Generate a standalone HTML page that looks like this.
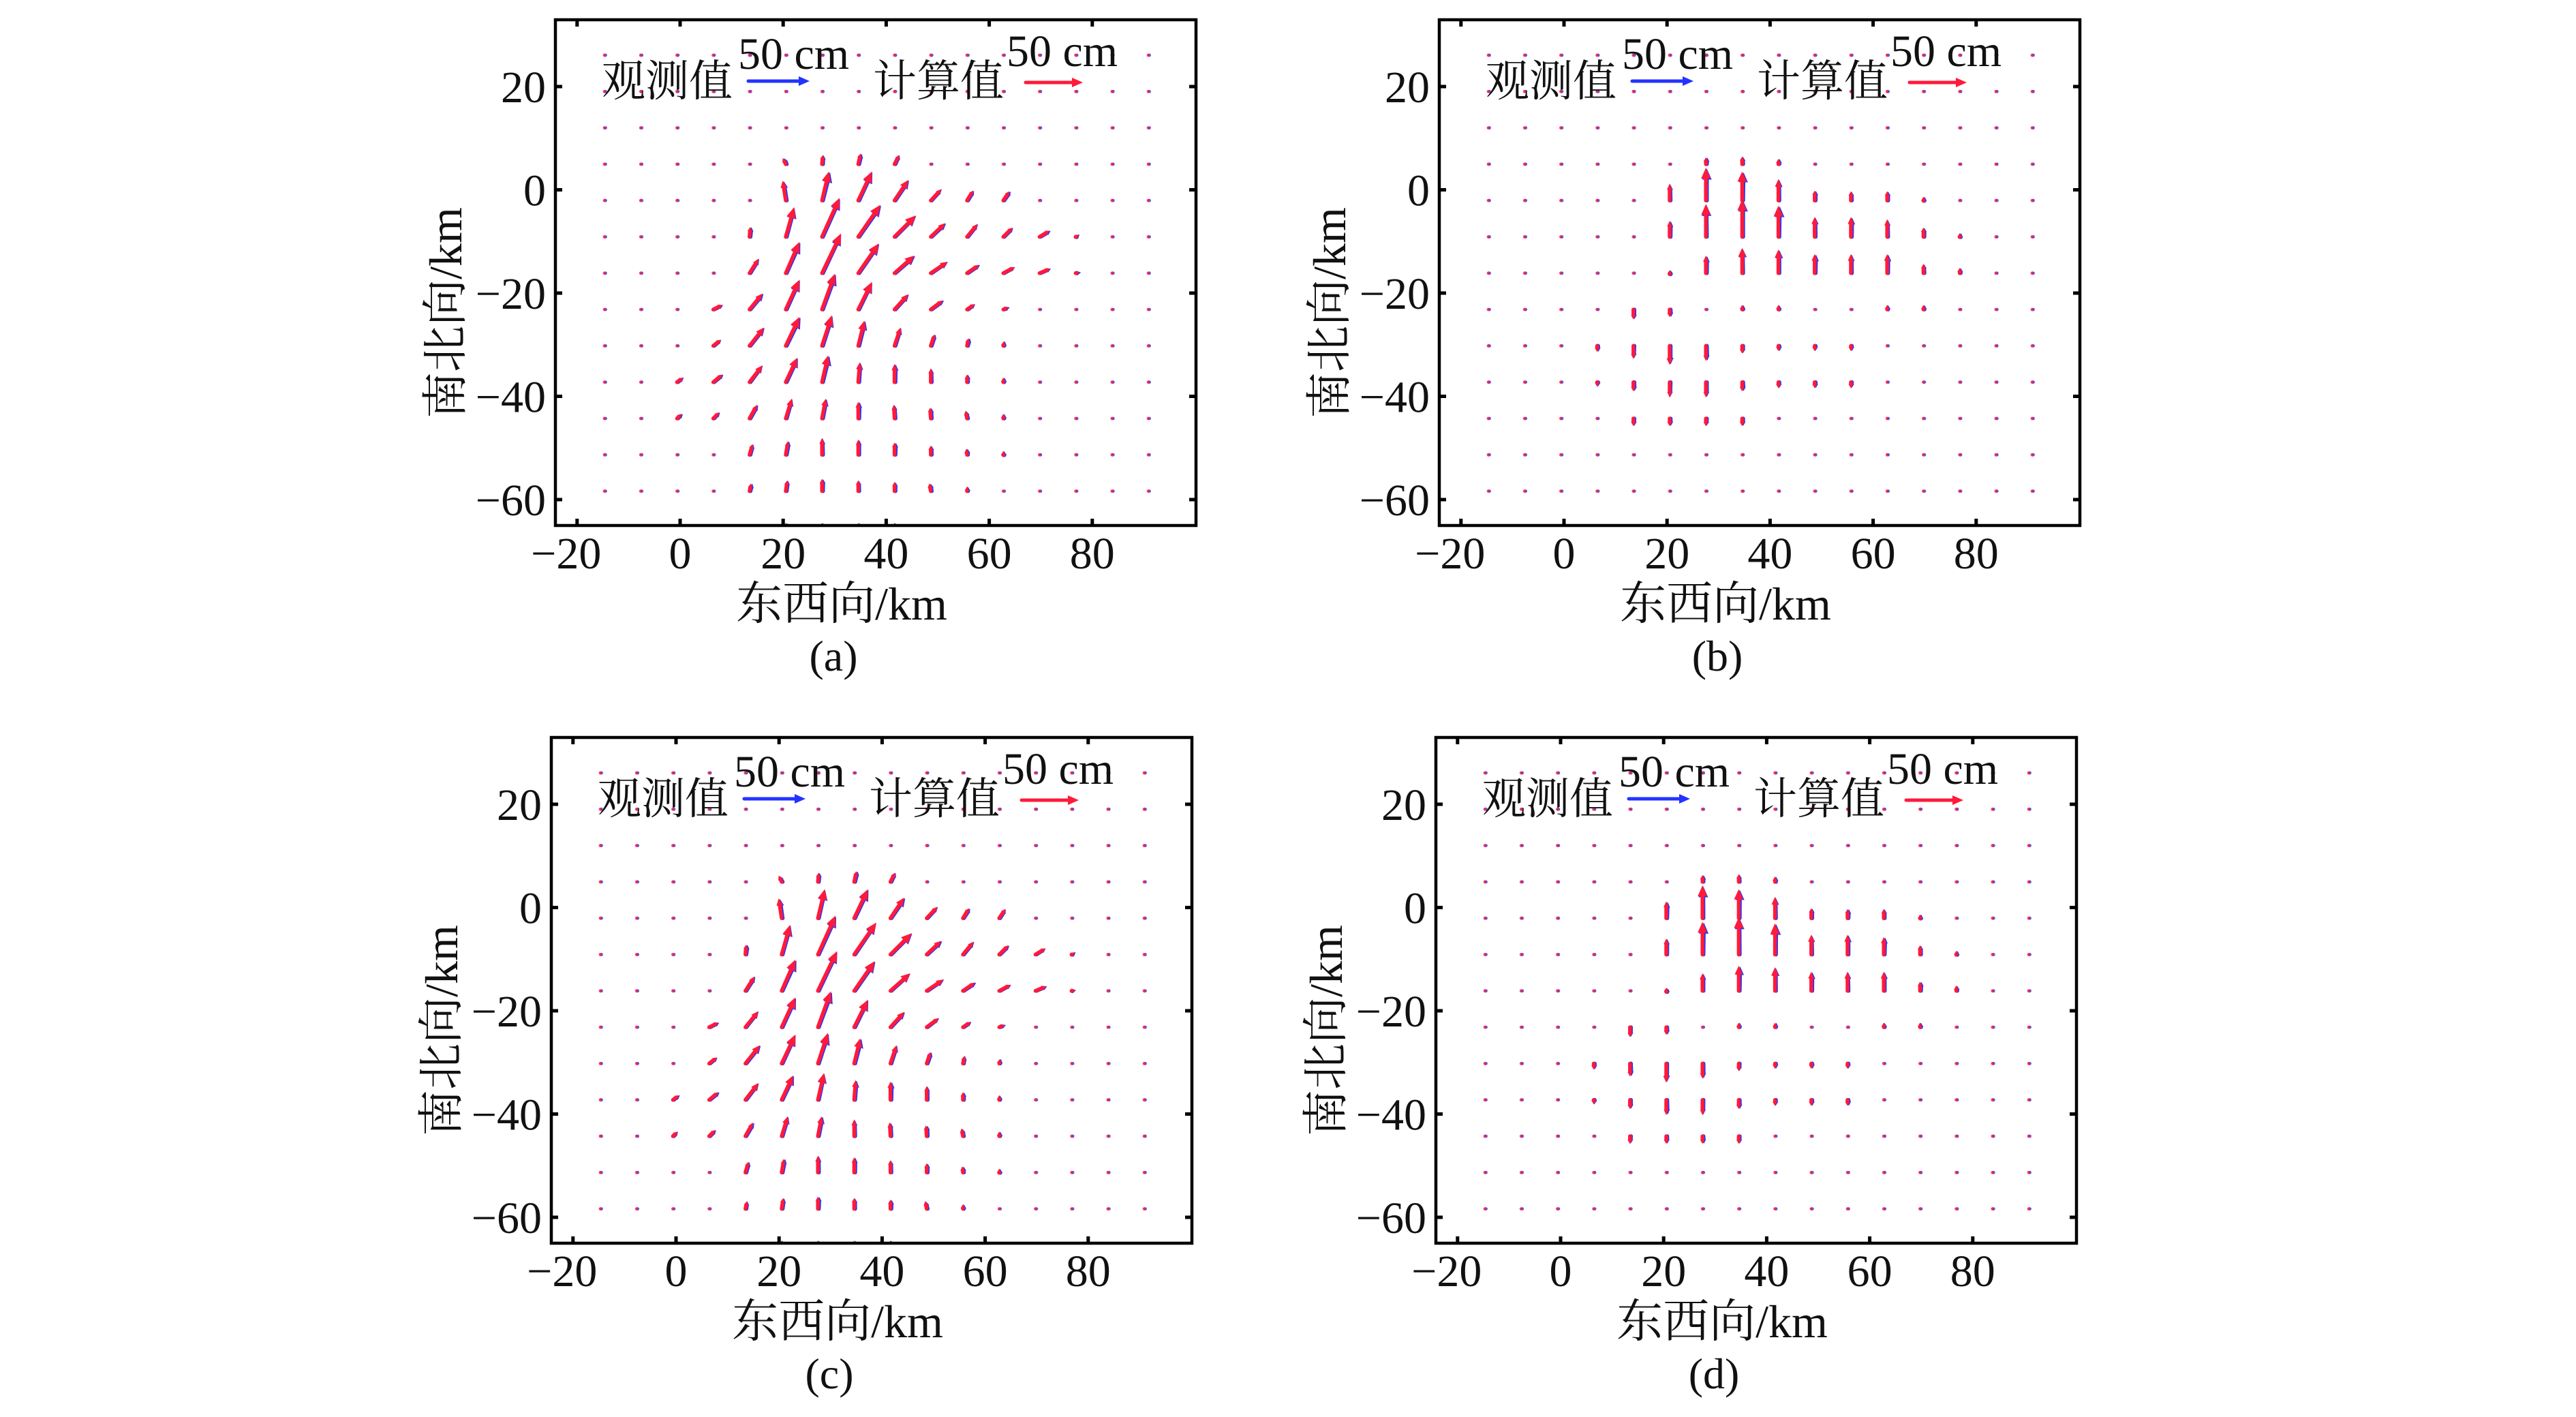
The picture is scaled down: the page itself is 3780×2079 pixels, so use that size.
<!DOCTYPE html>
<html><head><meta charset="utf-8">
<style>
html,body{margin:0;padding:0;background:#fff;}
svg{display:block;}
text{font-family:"Liberation Serif","Noto Serif CJK SC",serif;fill:#111;}
</style></head>
<body>
<svg id="s" xmlns="http://www.w3.org/2000/svg" width="3780" height="2079" viewBox="0 0 3780 2079"></svg>
<script>
const NS="http://www.w3.org/2000/svg";
const S=document.getElementById('s');
function el(t,a,p){const e=document.createElementNS(NS,t);for(const k in a)e.setAttribute(k,a[k]);(p||S).appendChild(e);return e;}
function txt(x,y,s,size,anchor,extra){const e=el('text',Object.assign({x:x,y:y,'font-size':size,'text-anchor':anchor||'start'},extra||{}));e.textContent=s;return e;}

const A=`3,5,-4,8;3,6,1,12;3,7,3,14;3,8,6,12;
4,5,-4,26;4,6,9,38;4,7,18,38;4,8,18,27;4,9,14,15;4,10,8,13;4,11,8,12;
5,4,1,13;5,5,11,39;5,6,23,51;5,7,29,42;5,8,28,28;5,9,19,18;5,10,14,17;5,11,12,12;5,12,13,8;5,13,4,3;
6,4,12,19;6,5,18,41;6,6,25,52;6,7,27,39;6,8,26,23;6,9,22,15;6,10,16,11;6,11,15,8;6,12,14,6;6,13,5,1;
7,3,12,6;7,4,17,21;7,5,18,39;7,6,17,47;7,7,18,36;7,8,18,20;7,9,16,12;7,10,10,7;7,11,7,3;
8,3,10,8;8,4,19,24;8,5,18,38;8,6,13,40;8,7,8,33;8,8,8,24;8,9,5,15;8,10,2,10;8,11,1,6;
9,2,8,6;9,3,12,10;9,4,17,22;9,5,15,32;9,6,8,35;9,7,2,26;9,8,0,24;9,9,0,18;9,10,0,10;9,11,0,6;
10,2,6,6;10,3,8,8;10,4,10,18;10,5,8,26;10,6,5,26;10,7,0,22;10,8,-1,18;10,9,-1,14;10,10,-2,10;10,11,0,6;
11,4,4,14;11,5,3,18;11,6,0,22;11,7,0,20;11,8,0,16;11,9,0,12;11,10,-1,8;11,11,0,5;
12,4,2,10;12,5,2,14;12,6,0,16;12,7,0,14;12,8,0,12;12,9,-2,10;12,10,0,6;
13,5,0,6;13,6,0,6;13,7,0,6;13,8,0,6`;
const B=`3,6,0,9;3,7,0,10;3,8,0,7;
4,5,0,22;4,6,0,43;4,7,0,38;4,8,0,28;4,9,0,13;4,10,0,12;4,11,0,12;4,12,0,5;
5,5,0,21;5,6,0,43;5,7,0,49;5,8,0,41;5,9,0,26;5,10,0,26;5,11,0,23;5,12,0,12;5,13,0,5;
6,5,0,4;6,6,0,23;6,7,0,33;6,8,0,31;6,9,0,25;6,10,0,25;6,11,0,25;6,12,0,12;6,13,0,7;
7,4,0,-13;7,5,0,-10;7,7,0,6;7,8,0,6;7,11,0,6;7,12,0,6;
8,3,0,-8;8,4,0,-17;8,5,0,-25;8,6,0,-20;8,7,0,-10;8,8,0,-7;8,9,0,-7;8,10,0,-7;
9,3,0,-6;9,4,0,-12;9,5,0,-20;9,6,0,-20;9,7,0,-12;9,8,0,-8;9,9,0,-8;9,10,0,-8;
10,4,0,-10;10,5,0,-10;10,6,0,-10;10,7,0,-10`;
function parse(s){const m={};s.replace(/\s/g,'').split(';').forEach(r=>{if(!r)return;const v=r.split(',').map(Number);m[v[0]+','+v[1]]=[v[2]*1.12,v[3]*1.12];});return m;}
const DA=parse(A),DB=parse(B);

function arrow(g,x,y,dx,dy,col,w){
  const L=Math.hypot(dx,dy);
  if(L<3){el('circle',{cx:x,cy:y,r:2.4,fill:col,opacity:0.8},g);return;}
  const ux=dx/L,uy=-dy/L;const ex=x+dx,ey=y-dy;
  const hl=Math.min(16,Math.max(6,L*0.35)),hw=Math.min(7,Math.max(3.5,L*0.16));
  const bx=ex-ux*hl,by=ey-uy*hl;
  el('line',{x1:x,y1:y,x2:bx,y2:by,stroke:col,'stroke-width':w,'stroke-linecap':'round'},g);
  el('polygon',{points:`${ex},${ey} ${bx-uy*hw},${by+ux*hw} ${bx+uy*hw},${by-ux*hw}`,fill:col},g);
}

function panel(L,T,W,H,data,lab,seed){
  const id='c'+lab;
  const cp=el('clipPath',{id:id});el('rect',{x:L,y:T,width:W,height:H},cp);
  const g=el('g',{'clip-path':`url(#${id})`});
  for(let j=0;j<14;j++)for(let i=0;i<16;i++){
    const x=L+72+53.2*i,y=T+52+53.3*j;
    const d=data[j+','+i]||[0,0];
    const r=((i*7+j*13+seed)%5)-2;
    arrow(g,x+1.5,y,d[0]*0.97+r*0.3,d[1]*0.97,'#2233ff',5.5);
    arrow(g,x,y,d[0],d[1],'#ff1a3a',5.5);
  }
  el('rect',{x:L,y:T,width:W,height:H,fill:'none',stroke:'#000','stroke-width':4.5});
  const x0=L+183,px=7.56,y0=T+249.5,py=7.575;
  [-20,0,20,40,60,80].forEach(v=>{
    const x=x0+v*px;
    el('line',{x1:x,y1:T+H,x2:x,y2:T+H-10,stroke:'#000','stroke-width':5});
    el('line',{x1:x,y1:T,x2:x,y2:T+10,stroke:'#000','stroke-width':5});
    txt(x+(v<0?-16:0),T+805,(v<0?'\u2212':'')+Math.abs(v),66,'middle');
  });
  [20,0,-20,-40,-60].forEach(v=>{
    const y=y0-v*py;
    el('line',{x1:L,y1:y,x2:L+10,y2:y,stroke:'#000','stroke-width':5});
    el('line',{x1:L+W,y1:y,x2:L+W-10,y2:y,stroke:'#000','stroke-width':5});
    txt(L-14,y+23,(v<0?'\u2212':'')+Math.abs(v),66,'end');
  });
  txt(L+68,T+112,'观测值',64,'start');
  txt(L+268,T+72,'50 cm',66,'start');
  arrow(S,L+283,T+90,90,0,'#2233ff',5);
  txt(L+466,T+112,'计算值',64,'start');
  txt(L+662,T+68,'50 cm',66,'start');
  arrow(S,L+690,T+92,84,0,'#ff1a3a',5);
  txt(L+420,T+880,'东西向/km',68,'middle');
  txt(L+408,T+955,'('+lab+')',64,'middle');
  txt(0,0,'南北向/km',68,'middle',{transform:`translate(${L-138},${T+430}) rotate(-90)`});
}
panel(815,29,940,742,DA,'a',0);
panel(2112,29,940,742,DB,'b',3);
panel(809,1082,940,742,DA,'c',1);
panel(2107,1082,940,742,DB,'d',2);
</script>
</body></html>
